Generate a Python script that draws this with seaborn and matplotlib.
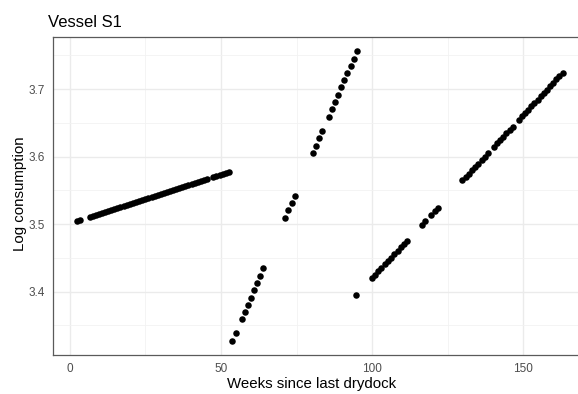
import matplotlib
matplotlib.use("Agg")
import matplotlib.pyplot as plt
import numpy as np
import pandas as pd
import seaborn as sns

# Weekly log fuel consumption of vessel S1, split into the stretches between gaps
week_a = [2.4, 3.4, 6.5, 7.5, 8.6, 9.6, 10.6, 11.6, 12.7, 13.7, 14.7, 15.7, 16.7,
          17.8, 18.8, 19.8, 20.8, 21.9, 22.9, 23.9, 24.9, 25.9, 27.0, 28.0, 29.0,
          30.0, 31.1, 32.1, 33.1, 34.1, 35.1, 36.2, 37.2, 38.2, 39.2, 40.3, 41.3,
          42.3, 43.3, 44.3, 45.4, 47.4, 48.4, 49.5, 50.5, 51.5, 52.5]
cons_a = [3.5050, 3.5064, 3.5108, 3.5123, 3.5137, 3.5152, 3.5166, 3.5181, 3.5196,
          3.5210, 3.5225, 3.5240, 3.5254, 3.5269, 3.5283, 3.5298, 3.5313, 3.5327,
          3.5342, 3.5357, 3.5371, 3.5386, 3.5400, 3.5415, 3.5430, 3.5444, 3.5459,
          3.5474, 3.5488, 3.5503, 3.5517, 3.5532, 3.5547, 3.5561, 3.5576, 3.5590,
          3.5605, 3.5620, 3.5634, 3.5649, 3.5664, 3.5693, 3.5708, 3.5722, 3.5737,
          3.5751, 3.5766]

week_b = [53.7, 54.9, 56.9, 57.9, 58.9, 59.9, 61.0, 62.0, 63.0, 64.0]
cons_b = [3.3274, 3.3384, 3.3596, 3.3704, 3.3807, 3.3911, 3.4025, 3.4133, 3.4237, 3.4347]

week_c = [71.2, 72.2, 73.4, 74.5]
cons_c = [3.5093, 3.5203, 3.5311, 3.5419]

week_d = [80.4, 81.4, 82.5, 83.5, 85.6, 86.6, 87.7, 88.7, 89.8, 90.8, 91.7, 92.9,
          93.9, 95.0]
cons_d = [3.6053, 3.6163, 3.6271, 3.6379, 3.6587, 3.6701, 3.6809, 3.6919, 3.7027,
          3.7130, 3.7239, 3.7342, 3.7452, 3.7560]

week_e = [94.6]
cons_e = [3.3951]

week_f = [99.9, 101.0, 102.0, 103.1, 104.2, 105.2, 106.3, 107.3, 108.4, 109.5,
          110.5, 111.6, 116.5, 117.6, 119.6, 120.8, 121.9]
cons_f = [3.4199, 3.4250, 3.4300, 3.4351, 3.4402, 3.4452, 3.4503, 3.4554, 3.4604,
          3.4655, 3.4706, 3.4756, 3.4985, 3.5040, 3.5135, 3.5190, 3.5244]

week_g = [129.9, 131.0, 132.0, 133.1, 134.1, 135.1, 136.2, 137.2, 138.2, 140.3,
          141.3, 142.4, 143.4, 144.4, 145.5, 146.5, 148.6, 149.6, 150.6, 151.7,
          152.7, 153.7, 154.8, 155.8, 156.8, 157.9, 158.9, 159.9, 160.9, 162.0,
          163.0]
cons_g = [3.5649, 3.5699, 3.5749, 3.5799, 3.5848, 3.5898, 3.5948, 3.5998, 3.6048,
          3.6147, 3.6197, 3.6247, 3.6297, 3.6347, 3.6397, 3.6446, 3.6546, 3.6596,
          3.6646, 3.6696, 3.6745, 3.6795, 3.6845, 3.6895, 3.6945, 3.6995, 3.7044,
          3.7094, 3.7144, 3.7194, 3.7244]

x_ticks = [0, 50, 100, 150]
y_ticks = [3.4, 3.5, 3.6, 3.7]

df = pd.DataFrame({
    "week": week_a + week_b + week_c + week_d + week_e + week_f + week_g,
    "log_consumption": cons_a + cons_b + cons_c + cons_d + cons_e + cons_f + cons_g,
})

sns.set_style("white")
plt.rcParams["font.family"] = ["Liberation Sans", "DejaVu Sans"]

fig = plt.figure(figsize=(5.78, 3.94), dpi=100)
ax = fig.add_axes([53 / 578, 1 - 355 / 394, 534 / 578, 318 / 394])

sns.scatterplot(data=df, x="week", y="log_consumption", ax=ax,
                color="black", s=22, linewidth=0, zorder=3)

ax.set_xlim(-5.6, 171.1)
ax.set_ylim(3.306, 3.7774)

ax.set_xticks(x_ticks)
ax.set_xticklabels([str(t) for t in x_ticks])
ax.set_yticks(y_ticks)
ax.set_yticklabels([f"{t:.1f}" for t in y_ticks])
ax.set_xticks([25, 75, 125], minor=True)
ax.set_yticks([3.35, 3.45, 3.55, 3.65, 3.75], minor=True)

ax.set_axisbelow(True)
ax.grid(which="major", color="#EBEBEB", linewidth=1.0)
ax.grid(which="minor", color="#F2F2F2", linewidth=0.6)

for side in ["left", "bottom", "top", "right"]:
    ax.spines[side].set_color("#5A5A5A")
    ax.spines[side].set_linewidth(0.9)

ax.tick_params(which="major", length=3.5, width=0.8, color="#333333",
               labelcolor="#4D4D4D", labelsize=8.5, pad=2.5)
ax.tick_params(which="minor", length=0)

ax.set_xlabel("Weeks since last drydock", fontsize=10.8, color="black")
ax.set_ylabel("Log consumption", fontsize=10.8, color="black")
ax.xaxis.set_label_coords((311.7 - 53) / 534, -0.068)
ax.yaxis.set_label_coords((27 - 53) / 534, 0.508)

fig.text(48 / 578, 1 - 27 / 394, "Vessel S1", fontsize=12.0,
         color="black", va="baseline", ha="left")

fig.savefig("out.png", dpi=100)
